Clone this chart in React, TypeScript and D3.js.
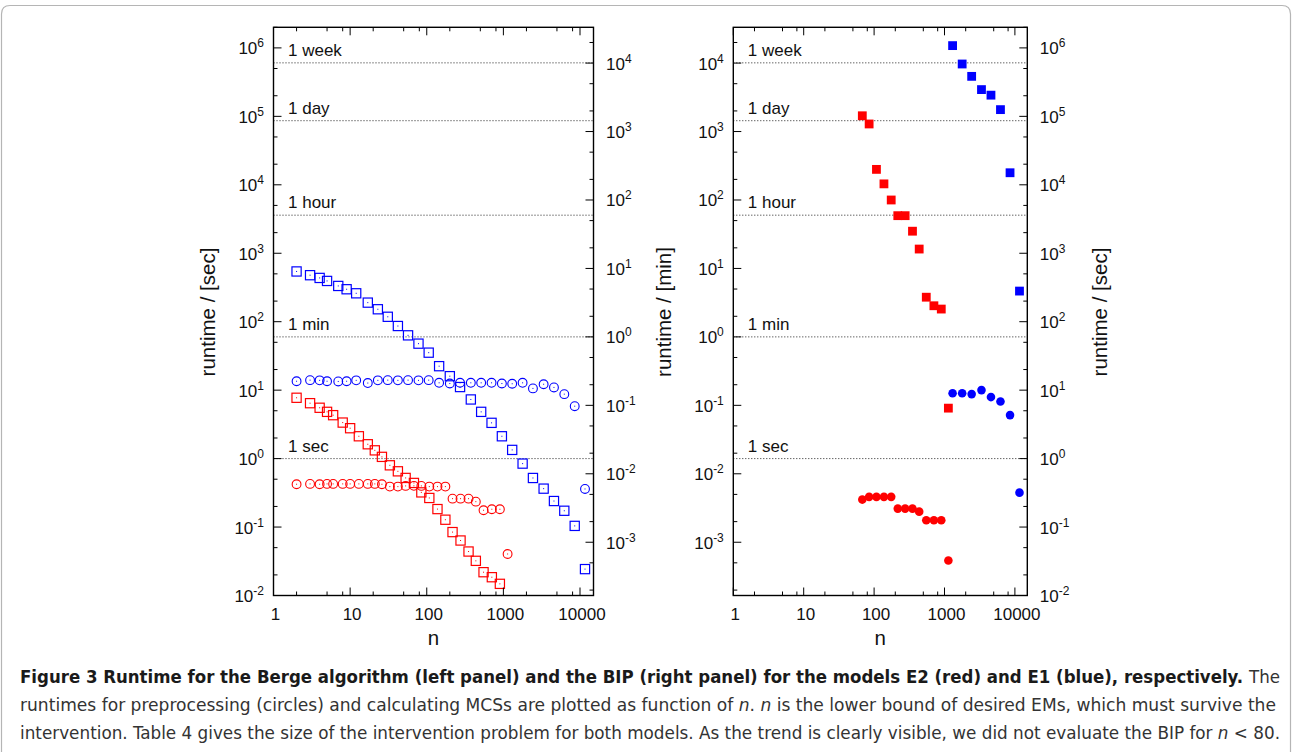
import * as d3 from "d3";

const FONT = "'Liberation Sans', Arial, Helvetica, sans-serif";
const CAP_FONT = "'Liberation Sans Narrow', 'DejaVu Sans Condensed', 'Liberation Sans', sans-serif";
const RED = "#ff0000";
const BLUE = "#0000ff";

// n = lower bound of desired EMs
const nE2 = [2, 3, 4, 5, 6, 8, 10, 13, 17, 21, 26, 33, 42, 53, 68, 85, 108, 138, 175, 217, 276, 351, 437, 551, 707, 900, 1135];
const nE1 = [2, 3, 4, 5, 7, 9, 12, 17, 23, 31, 42, 57, 78, 106, 145, 200, 272, 376, 513, 701, 956, 1303, 1782, 2431, 3352, 4571, 6237, 8530, 11620];

// Berge algorithm (left panel), runtime in seconds
const bergeE2Mcs = [7.74, 6.45, 5.53, 4.82, 4.31, 3.36, 2.78, 2.12, 1.62, 1.32, 1.06, 0.798, 0.652, 0.522, 0.441, 0.321, 0.266, 0.183, 0.128, 0.0844, 0.0636, 0.0439, 0.0321, 0.0219, 0.0185, 0.0148];
const bergeE2Pre = [0.422, 0.427, 0.422, 0.427, 0.427, 0.427, 0.427, 0.427, 0.427, 0.427, 0.422, 0.39, 0.39, 0.399, 0.4, 0.399, 0.39, 0.39, 0.39, 0.26, 0.26, 0.26, 0.235, 0.176, 0.182, 0.182, 0.0404];
const bergeE1Mcs = [542, 478, 436, 394, 333, 298, 260, 190, 152, 118, 86.5, 63.2, 47.8, 35.3, 22.4, 16.0, 11.1, 7.31, 4.82, 3.33, 2.12, 1.34, 0.845, 0.521, 0.364, 0.24, 0.173, 0.104, 0.0243];
const bergeE1Pre = [13.5, 14.0, 13.9, 13.5, 13.4, 13.5, 13.9, 12.7, 13.9, 14.0, 13.9, 14.0, 13.9, 14.0, 12.8, 12.5, 12.8, 12.8, 12.8, 12.8, 12.5, 12.4, 12.8, 10.6, 12.2, 10.96, 8.74, 5.83, 0.36];

// BIP (right panel), runtime in minutes
const bipE2N = [68, 85, 108, 138, 175, 217, 276, 351, 437, 551, 707, 900, 1135];
const bipE2Mcs = [1700, 1290, 280, 172, 100, 59, 59, 35, 19.2, 3.8, 2.85, 2.55, 0.091];
const bipE2Pre = [0.0042, 0.0046, 0.0046, 0.0046, 0.0046, 0.0031, 0.0031, 0.0031, 0.0028, 0.0021, 0.0021, 0.0021, 0.00054];
const bipE1N = [1303, 1782, 2431, 3352, 4571, 6237, 8530, 11620];
const bipE1Mcs = [18000, 9700, 6400, 4100, 3400, 2090, 250, 4.67];
const bipE1Pre = [0.15, 0.15, 0.146, 0.167, 0.132, 0.114, 0.072, 0.0053];

// reference times in seconds
const refLabels = ["1 week", "1 day", "1 hour", "1 min", "1 sec"];
const refSeconds = [604800, 86400, 3600, 60, 1];

const xTickLabels = ["1", "10", "100", "1000", "10000"];

const TOP = 27.3;
const BOTTOM = 595.5;
const SEC_DOMAIN = [1e-2, 2e6];

function logTicks(scale: any, minors: number[]) {
  const [a, b] = scale.domain();
  const out: { v: number; major: boolean; e: number }[] = [];
  for (let e = Math.floor(Math.log10(a)) - 1; e <= Math.ceil(Math.log10(b)); e++) {
    const base = Math.pow(10, e);
    out.push({ v: base, major: true, e });
    minors.forEach((m) => out.push({ v: m * base, major: false, e }));
  }
  return out.filter((t) => t.v >= a * 0.999 && t.v <= b * 1.001);
}

function Marker({ kind, x, y, color }: any) {
  if (kind === "openSquare")
    return (
      <g>
        <rect x={x - 4.6} y={y - 4.6} width={9.2} height={9.2} fill="none" stroke={color} strokeWidth={1.2} />
        <rect x={x - 0.5} y={y - 0.5} width={1} height={1} fill={color} />
      </g>
    );
  if (kind === "openCircle")
    return (
      <g>
        <circle cx={x} cy={y} r={4.4} fill="none" stroke={color} strokeWidth={1.1} />
        <rect x={x - 0.5} y={y - 0.5} width={1} height={1} fill={color} />
      </g>
    );
  if (kind === "filledSquare") return <rect x={x - 4.4} y={y - 4.4} width={8.8} height={8.8} fill={color} />;
  return <circle cx={x} cy={y} r={4.3} fill={color} />;
}

function YLabel({ x, y, e, anchor }: any) {
  return (
    <text x={x} y={y + 6.5} textAnchor={anchor} fontSize={17} fontFamily={FONT} fill="#111">
      10
      <tspan dy={-7} fontSize={12}>
        {String(e)}
      </tspan>
    </text>
  );
}

function Panel({ x0, x1, leftUnit, series }: any) {
  const x = d3.scaleLog().domain([1, 15000]).range([x0, x1]);
  const ySec = d3.scaleLog().domain(SEC_DOMAIN).range([BOTTOM, TOP]);
  const yMin = d3.scaleLog().domain([SEC_DOMAIN[0] / 60, SEC_DOMAIN[1] / 60]).range([BOTTOM, TOP]);
  const yLeft = leftUnit === "sec" ? ySec : yMin;
  const yRight = leftUnit === "sec" ? yMin : ySec;

  const xt = logTicks(x, [2, 5, 8]);
  const ylt = logTicks(yLeft, [2, 5]);
  const yrt = logTicks(yRight, [2, 5]);

  return (
    <g>
      {/* reference lines */}
      {refSeconds.map((s, i) => (
        <g key={"ref" + i}>
          <line x1={x0} x2={x1} y1={ySec(s)} y2={ySec(s)} stroke="#222" strokeWidth={1} strokeDasharray="1 2" />
          <text x={x0 + 14.5} y={ySec(s) - 7} fontSize={17} fontFamily={FONT} fill="#111">
            {refLabels[i]}
          </text>
        </g>
      ))}

      {/* data */}
      {series.map((s: any, si: number) =>
        s.values.map((v: number, i: number) => (
          <Marker key={si + "-" + i} kind={s.kind} color={s.color} x={x(s.n[i])} y={(s.unit === "sec" ? ySec : yMin)(v)} />
        ))
      )}

      {/* frame */}
      <rect x={x0} y={TOP} width={x1 - x0} height={BOTTOM - TOP} fill="none" stroke="#000" strokeWidth={1.4} />

      {/* x ticks */}
      {xt.map((t, i) => {
        const len = t.major ? 8 : 4;
        return (
          <g key={"xt" + i}>
            <line x1={x(t.v)} x2={x(t.v)} y1={BOTTOM} y2={BOTTOM - len} stroke="#000" strokeWidth={1} />
            <line x1={x(t.v)} x2={x(t.v)} y1={TOP} y2={TOP + len} stroke="#000" strokeWidth={1} />
          </g>
        );
      })}
      {xTickLabels.map((lab, i) => (
        <text key={"xl" + i} x={x(Math.pow(10, i)) + 2} y={619.5} textAnchor="middle" fontSize={17} fontFamily={FONT} fill="#111">
          {lab}
        </text>
      ))}

      {/* left y ticks */}
      {ylt.map((t, i) => (
        <g key={"yl" + i}>
          <line x1={x0} x2={x0 + (t.major ? 8 : 4)} y1={yLeft(t.v)} y2={yLeft(t.v)} stroke="#000" strokeWidth={1} />
          {t.major && <YLabel x={x0 - 9.5} y={yLeft(t.v)} e={t.e} anchor="end" />}
        </g>
      ))}
      {/* right y ticks */}
      {yrt.map((t, i) => (
        <g key={"yr" + i}>
          <line x1={x1} x2={x1 - (t.major ? 8 : 4)} y1={yRight(t.v)} y2={yRight(t.v)} stroke="#000" strokeWidth={1} />
          {t.major && <YLabel x={x1 + 12.5} y={yRight(t.v)} e={t.e} anchor="start" />}
        </g>
      ))}

      <text x={(x0 + x1) / 2} y={645} textAnchor="middle" fontSize={20.5} fontFamily={FONT} fill="#111">
        n
      </text>
    </g>
  );
}

function AxisTitle({ x, label }: any) {
  return (
    <text transform={`translate(${x},312) rotate(-90)`} textAnchor="middle" fontSize={20.5} fontFamily={FONT} fill="#111">
      {label}
    </text>
  );
}

export default function App() {
  const leftSeries = [
    { kind: "openSquare", color: BLUE, n: nE1, values: bergeE1Mcs, unit: "sec" },
    { kind: "openCircle", color: BLUE, n: nE1, values: bergeE1Pre, unit: "sec" },
    { kind: "openSquare", color: RED, n: nE2, values: bergeE2Mcs, unit: "sec" },
    { kind: "openCircle", color: RED, n: nE2, values: bergeE2Pre, unit: "sec" },
  ];
  const rightSeries = [
    { kind: "filledSquare", color: RED, n: bipE2N, values: bipE2Mcs, unit: "min" },
    { kind: "filledCircle", color: RED, n: bipE2N, values: bipE2Pre, unit: "min" },
    { kind: "filledSquare", color: BLUE, n: bipE1N, values: bipE1Mcs, unit: "min" },
    { kind: "filledCircle", color: BLUE, n: bipE1N, values: bipE1Pre, unit: "min" },
  ];

  return (
    <svg width={1292} height={752} style={{ position: "absolute", left: 0, top: 0, background: "#fff" }}>
      <path d="M1.5,752 L1.5,14 Q1.5,5.5 10,5.5 L1282,5.5 Q1290.5,5.5 1290.5,14 L1290.5,752" fill="none" stroke="#b5b5b5" strokeWidth={1.2} />

      <Panel x0={273.5} x1={593.5} leftUnit="sec" series={leftSeries} />
      <Panel x0={733.3} x1={1027.3} leftUnit="min" series={rightSeries} />

      <AxisTitle x={215} label="runtime / [sec]" />
      <AxisTitle x={671} label="runtime / [min]" />
      <AxisTitle x={1107} label="runtime / [sec]" />

      <g fontFamily={CAP_FONT} fontSize={18}>
        <text x={20} y={683} fontWeight="bold" fill="#1a1a1a" textLength={1223} lengthAdjust="spacingAndGlyphs">
          Figure 3 Runtime for the Berge algorithm (left panel) and the BIP (right panel) for the models E2 (red) and E1 (blue), respectively.
        </text>
        <text x={1249} y={683} fill="#333" textLength={31} lengthAdjust="spacingAndGlyphs">
          The
        </text>
        <text x={20} y={711} fill="#333" textLength={1256} lengthAdjust="spacingAndGlyphs">
          runtimes for preprocessing (circles) and calculating MCSs are plotted as function of <tspan fontStyle="italic">n</tspan>. <tspan fontStyle="italic">n</tspan> is the lower bound of desired EMs, which must survive the
        </text>
        <text x={20} y={739} fill="#333" textLength={1260} lengthAdjust="spacingAndGlyphs">
          intervention. Table 4 gives the size of the intervention problem for both models. As the trend is clearly visible, we did not evaluate the BIP for <tspan fontStyle="italic">n</tspan> &lt; 80.
        </text>
      </g>
    </svg>
  );
}
